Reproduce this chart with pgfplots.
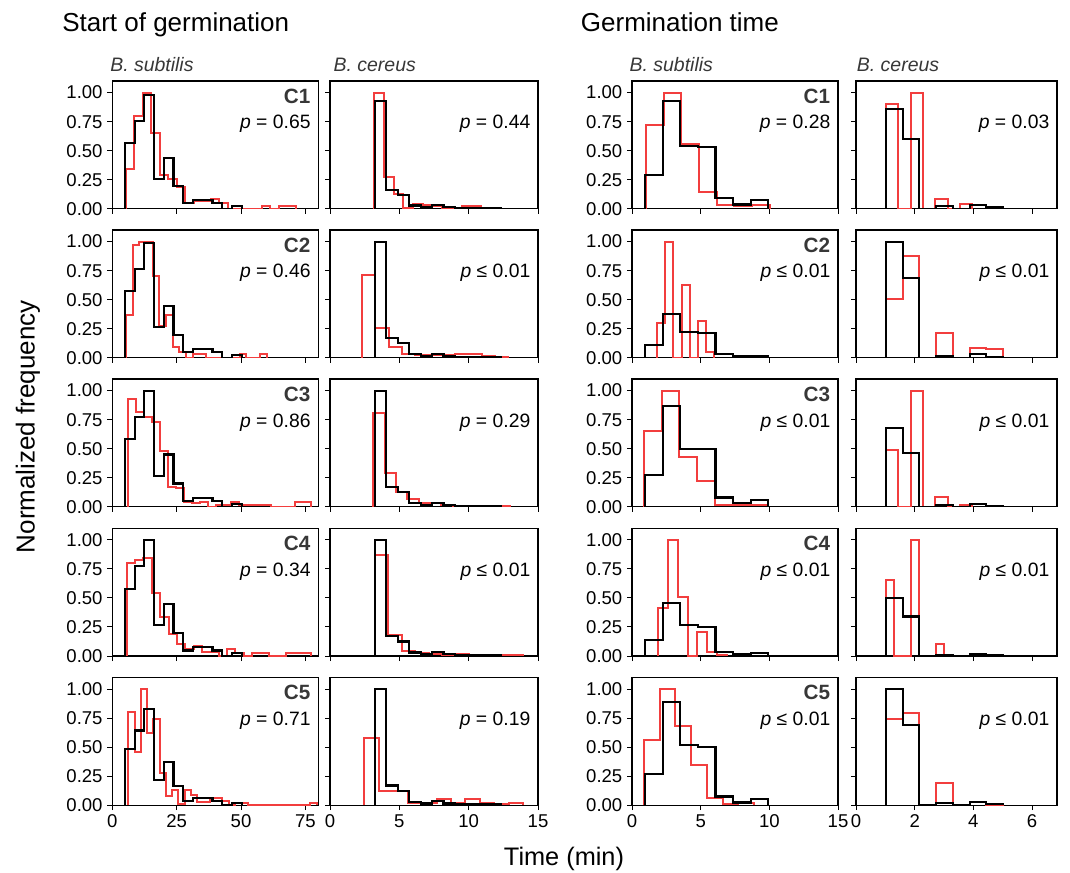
\documentclass[border=0pt]{standalone}
\usepackage{fontspec}
\setmainfont{Liberation Sans}
\usepackage{pgfplots}
\pgfplotsset{compat=1.18}
\definecolor{redl}{RGB}{242,62,62}
\definecolor{labgray}{RGB}{55,55,55}
\newcommand\tickfont{\fontsize{13.9}{15}\selectfont}
\newcommand\pfont{\fontsize{14.5}{16}\selectfont}
\newcommand\cfont{\fontsize{15.5}{17}\selectfont\bfseries}
\pgfplotsset{
  hist/.style={
    scale only axis, height=95.8pt, anchor=north west,
    ymin=0, ymax=1.1,
    ytick={0,0.25,0.5,0.75,1},
    yticklabels={0.00,0.25,0.50,0.75,1.00},
    tick align=outside, tick pos=left,
    major tick length=3.75pt,
    every tick/.style={black, line width=0.75pt},
    axis line style={line width=0.9pt},
    tick label style={font=\tickfont},
    every axis plot/.append style={const plot mark left, no marks, line join=miter},
  },
  colA/.style={width=154.5pt, xmin=0, xmax=80, xtick={0,25,50,75}, xticklabels={0,25,50,75}},
  colB/.style={width=156pt, xmin=0, xmax=15, xtick={0,5,10,15}, xticklabels={0,5,10,15}, yticklabels={}},
  colC/.style={width=154.5pt, xmin=0, xmax=15, xtick={0,5,10,15}, xticklabels={0,5,10,15}},
  colD/.style={width=150.75pt, xmin=0, xmax=6.85, xtick={0,2,4,6}, xticklabels={0,2,4,6}, yticklabels={}},
  nox/.style={xticklabels={}},
  rs/.style={draw=redl, line width=1.5pt},
  bs/.style={draw=black, line width=1.6pt},
}
\newcommand\lab[2]{%
  \node[anchor=base east, font=\cfont, text=labgray, inner sep=0pt, xshift=-5.8pt, yshift=-16.7pt] at (rel axis cs:1,1) {#1};
  \node[anchor=base east, font=\pfont, inner sep=0pt, xshift=-5.6pt, yshift=-36pt] at (rel axis cs:1,1) {#2};}
\newcommand\plab[1]{%
  \node[anchor=base east, font=\pfont, inner sep=0pt, xshift=-5.6pt, yshift=-36pt] at (rel axis cs:1,1) {#1};}
\begin{document}
\begin{tikzpicture}
\useasboundingbox (0,0) rectangle (802.5pt,-654.75pt);
% titles
\node[anchor=base west, inner sep=0pt, font=\fontsize{19.5}{21}\selectfont] at (46.5pt,-24pt) {Start of germination};
\node[anchor=base west, inner sep=0pt, font=\fontsize{19.5}{21}\selectfont] at (435.5pt,-24pt) {Germination time};
\node[anchor=base west, inner sep=0pt, font=\fontsize{14.6}{16}\selectfont\itshape, text=labgray] at (82.5pt,-54pt) {B. subtilis};
\node[anchor=base west, inner sep=0pt, font=\fontsize{14.6}{16}\selectfont\itshape, text=labgray] at (250pt,-54pt) {B. cereus};
\node[anchor=base west, inner sep=0pt, font=\fontsize{14.6}{16}\selectfont\itshape, text=labgray] at (472pt,-54pt) {B. subtilis};
\node[anchor=base west, inner sep=0pt, font=\fontsize{14.6}{16}\selectfont\itshape, text=labgray] at (642.5pt,-54pt) {B. cereus};
\node[rotate=90, font=\fontsize{19.5}{21}\selectfont] at (21pt,-320pt) {Normalized frequency};
\node[font=\fontsize{19}{21}\selectfont] at (423pt,-644.5pt) {Time (min)};

% ---------------- Row 1
\begin{axis}[hist, colA, nox, at={(84.2pt,-60.75pt)}]
\addplot[rs] coordinates {(5.3,0)(5.3,0.34)(8.6,0.80)(11.9,1.0)(15.2,0.65)(18.5,0.29)(21.8,0.26)(25.1,0.19)(28.4,0.05)(31.7,0.07)(35.0,0.07)(38.3,0.08)(41.6,0.05)(44.9,0)(48.2,0)(51.5,0)(54.8,0)(58.1,0.025)(61.4,0)(64.7,0.025)(68.0,0.025)(71.3,0)};
\addplot[bs] coordinates {(4.90,0)(4.90,0.567)(8.68,0.757)(12.46,0.977)(16.24,0.259)(20.02,0.440)(23.80,0.195)(27.58,0.046)(31.36,0.074)(35.14,0.074)(38.92,0.046)(42.70,0)(46.48,0.023)(50.26,0)};
\lab{C1}{\textit{p} = 0.65}
\end{axis}
\begin{axis}[hist, colB, nox, at={(247.5pt,-60.75pt)}]
\addplot[rs] coordinates {(3.2,0)(3.2,1.0)(3.9,0.275)(4.6,0.13)(5.3,0.01)(6.0,0.04)(6.7,0.03)(7.4,0.02)(8.1,0.01)(8.8,0.01)(9.5,0.023)(10.2,0.023)(10.9,0)};
\addplot[bs] coordinates {(3.24,0)(3.24,0.93)(4.064,0.158)(4.888,0.116)(5.712,0.028)(6.536,0.014)(7.36,0.033)(8.184,0.014)(9.008,0.009)(9.832,0.009)(10.656,0.009)(11.48,0.009)(12.304,0)};
\plab{\textit{p} = 0.44}
\end{axis}
\begin{axis}[hist, colC, nox, at={(474pt,-60.75pt)}]
\addplot[rs] coordinates {(1.02,0)(1.02,0.725)(2.305,1.0)(3.59,0.56)(4.875,0.146)(6.16,0.03)(7.445,0.02)(8.73,0.03)(10.015,0)};
\addplot[bs] coordinates {(0.95,0)(0.95,0.287)(2.233,0.925)(3.516,0.537)(4.799,0.532)(6.082,0.09)(7.365,0.037)(8.648,0.074)(9.931,0)};
\lab{C1}{\textit{p} = 0.28}
\end{axis}
\begin{axis}[hist, colD, nox, at={(642pt,-60.75pt)}]
\addplot[rs] coordinates {(1.02,0)(1.02,0.90)(1.44,0)(1.86,1.0)(2.28,0)(2.70,0.08)(3.12,0)(3.54,0.04)(3.96,0)};
\addplot[bs] coordinates {(1.02,0)(1.02,0.86)(1.59,0.60)(2.16,0)(2.73,0.023)(3.30,0)(3.87,0.03)(4.44,0.012)(5.01,0)};
\plab{\textit{p} = 0.03}
\end{axis}

% ---------------- Row 2
\begin{axis}[hist, colA, nox, at={(84.2pt,-172.5pt)}]
\addplot[rs] coordinates {(5.3,0)(5.3,0.37)(7.9,0.975)(10.5,1.0)(13.1,1.0)(15.7,0.70)(18.3,0.27)(20.9,0.37)(23.5,0.09)(26.1,0.05)(28.7,0)(31.3,0.035)(33.9,0.035)(36.5,0)(39.1,0)(41.7,0)(44.3,0)(46.9,0)(49.5,0.035)(52.1,0)(54.7,0)(57.3,0.035)(59.9,0)};
\addplot[bs] coordinates {(4.90,0)(4.90,0.574)(8.68,0.767)(12.46,0.99)(16.24,0.262)(20.02,0.446)(23.80,0.198)(27.58,0.047)(31.36,0.075)(35.14,0.075)(38.92,0.047)(42.70,0)(46.48,0.024)(50.26,0)};
\lab{C2}{\textit{p} = 0.46}
\end{axis}
\begin{axis}[hist, colB, nox, at={(247.5pt,-172.5pt)}]
\addplot[rs] coordinates {(2.3,0)(2.3,0.71)(3.26,0.26)(4.22,0.095)(5.18,0.03)(6.14,0.02)(7.10,0.02)(8.06,0.02)(9.02,0.03)(9.98,0.03)(10.94,0.015)(11.90,0.01)(12.86,0)};
\addplot[bs] coordinates {(3.24,0)(3.24,1.0)(4.064,0.17)(4.888,0.125)(5.712,0.03)(6.536,0.015)(7.36,0.035)(8.184,0.015)(9.008,0.01)(9.832,0.01)(10.656,0.01)(11.48,0.01)(12.304,0)};
\plab{\textit{p} ≤ 0.01}
\end{axis}
\begin{axis}[hist, colC, nox, at={(474pt,-172.5pt)}]
\addplot[rs] coordinates {(1.84,0)(1.84,0.30)(2.43,1.0)(3.02,0)(3.61,0.63)(4.20,0)(4.79,0.32)(5.38,0.046)(5.97,0)};
\addplot[bs] coordinates {(0.95,0)(0.95,0.11)(2.233,0.38)(3.516,0.22)(4.799,0.216)(6.082,0.03)(7.365,0.014)(8.648,0.017)(9.931,0)};
\lab{C2}{\textit{p} ≤ 0.01}
\end{axis}
\begin{axis}[hist, colD, nox, at={(642pt,-172.5pt)}]
\addplot[rs] coordinates {(1.02,0)(1.02,0.51)(1.59,0.88)(2.16,0)(2.73,0.21)(3.30,0)(3.87,0.086)(4.44,0.072)(5.01,0)};
\addplot[bs] coordinates {(1.02,0)(1.02,1.0)(1.59,0.69)(2.16,0)(2.73,0.017)(3.30,0)(3.87,0.03)(4.44,0.01)(5.01,0)};
\plab{\textit{p} ≤ 0.01}
\end{axis}

% ---------------- Row 3
\begin{axis}[hist, colA, nox, at={(84.2pt,-284.25pt)}]
\addplot[rs] coordinates {(6.0,0)(6.0,0.93)(9.1,0.82)(12.2,0.77)(15.3,0.73)(18.4,0.48)(21.5,0.17)(24.6,0.16)(27.7,0.045)(30.8,0.03)(33.9,0.04)(37.0,0)(40.1,0.017)(43.2,0.017)(46.3,0.037)(49.4,0.017)(52.5,0.017)(55.6,0.017)(58.7,0.017)(61.8,0)(64.9,0)(68.0,0)(71.1,0.037)(74.2,0.037)(77.3,0)};
\addplot[bs] coordinates {(4.90,0)(4.90,0.58)(8.68,0.775)(12.46,1.0)(16.24,0.265)(20.02,0.45)(23.80,0.2)(27.58,0.047)(31.36,0.076)(35.14,0.076)(38.92,0.047)(42.70,0)(46.48,0.024)(50.26,0)};
\lab{C3}{\textit{p} = 0.86}
\end{axis}
\begin{axis}[hist, colB, nox, at={(247.5pt,-284.25pt)}]
\addplot[rs] coordinates {(3.12,0)(3.12,0.805)(3.94,0.29)(4.76,0.13)(5.58,0.07)(6.40,0.03)(7.22,0.03)(8.04,0.015)(8.86,0.01)(9.68,0.005)(10.50,0.01)(11.32,0.01)(12.14,0.01)(12.96,0)};
\addplot[bs] coordinates {(3.24,0)(3.24,1.0)(4.064,0.17)(4.888,0.125)(5.712,0.03)(6.536,0.015)(7.36,0.035)(8.184,0.015)(9.008,0.01)(9.832,0.01)(10.656,0.01)(11.48,0.01)(12.304,0)};
\plab{\textit{p} = 0.29}
\end{axis}
\begin{axis}[hist, colC, nox, at={(474pt,-284.25pt)}]
\addplot[rs] coordinates {(0.87,0)(0.87,0.65)(2.16,1.0)(3.45,0.43)(4.74,0.22)(6.03,0.012)(7.32,0.012)(8.61,0.012)(9.90,0)};
\addplot[bs] coordinates {(0.95,0)(0.95,0.27)(2.233,0.87)(3.516,0.50)(4.799,0.50)(6.082,0.08)(7.365,0.03)(8.648,0.06)(9.931,0)};
\lab{C3}{\textit{p} ≤ 0.01}
\end{axis}
\begin{axis}[hist, colD, nox, at={(642pt,-284.25pt)}]
\addplot[rs] coordinates {(1.02,0)(1.02,0.49)(1.44,0)(1.86,1.0)(2.28,0)(2.70,0.083)(3.12,0)(3.54,0.012)(3.96,0)};
\addplot[bs] coordinates {(1.02,0)(1.02,0.68)(1.59,0.46)(2.16,0)(2.73,0.014)(3.30,0)(3.87,0.023)(4.44,0.009)(5.01,0)};
\plab{\textit{p} ≤ 0.01}
\end{axis}

% ---------------- Row 4
\begin{axis}[hist, colA, nox, at={(84.2pt,-396.2pt)}]
\addplot[rs] coordinates {(5.6,0)(5.6,0.80)(8.85,0.83)(12.1,0.84)(15.35,0.54)(18.6,0.34)(21.85,0.19)(25.1,0.10)(28.35,0.06)(31.6,0.09)(34.85,0.037)(38.1,0.037)(41.35,0)(44.6,0.057)(47.85,0.023)(51.1,0)(54.35,0.023)(57.6,0.023)(60.85,0)(64.1,0)(67.35,0.023)(70.6,0.023)(73.85,0.023)(77.1,0)};
\addplot[bs] coordinates {(4.90,0)(4.90,0.58)(8.68,0.775)(12.46,1.0)(16.24,0.265)(20.02,0.45)(23.80,0.2)(27.58,0.047)(31.36,0.076)(35.14,0.076)(38.92,0.047)(42.70,0)(46.48,0.024)(50.26,0)};
\lab{C4}{\textit{p} = 0.34}
\end{axis}
\begin{axis}[hist, colB, nox, at={(247.5pt,-396.2pt)}]
\addplot[rs] coordinates {(3.24,0)(3.24,0.87)(4.21,0.18)(5.18,0.045)(6.15,0.023)(7.12,0.015)(8.09,0.01)(9.06,0.017)(10.03,0.005)(11.00,0.005)(11.97,0.005)(12.94,0.012)(13.91,0)};
\addplot[bs] coordinates {(3.24,0)(3.24,1.0)(4.064,0.17)(4.888,0.125)(5.712,0.03)(6.536,0.015)(7.36,0.035)(8.184,0.015)(9.008,0.01)(9.832,0.01)(10.656,0.01)(11.48,0.01)(12.304,0)};
\plab{\textit{p} ≤ 0.01}
\end{axis}
\begin{axis}[hist, colC, nox, at={(474pt,-396.2pt)}]
\addplot[rs] coordinates {(1.92,0)(1.92,0.41)(2.63,1.0)(3.34,0.51)(4.05,0)(4.76,0.21)(5.47,0.037)(6.18,0.01)(6.89,0)};
\addplot[bs] coordinates {(0.95,0)(0.95,0.138)(2.233,0.454)(3.516,0.264)(4.799,0.253)(6.082,0.037)(7.365,0.014)(8.648,0.029)(9.931,0)};
\lab{C4}{\textit{p} ≤ 0.01}
\end{axis}
\begin{axis}[hist, colD, nox, at={(642pt,-396.2pt)}]
\addplot[rs] coordinates {(1.02,0)(1.02,0.655)(1.305,0)(1.59,0)(1.875,1.0)(2.16,0)(2.445,0)(2.73,0.10)(3.015,0)};
\addplot[bs] coordinates {(1.02,0)(1.02,0.50)(1.59,0.34)(2.16,0)(2.73,0.011)(3.30,0)(3.87,0.02)(4.44,0.007)(5.01,0)};
\plab{\textit{p} ≤ 0.01}
\end{axis}

% ---------------- Row 5
\begin{axis}[hist, colA, at={(84.2pt,-508.1pt)}]
\addplot[rs] coordinates {(6.2,0)(6.2,0.80)(8.64,0.46)(11.08,1.0)(13.52,0.62)(15.96,0.74)(18.4,0.28)(20.84,0.075)(23.28,0.13)(25.72,0.01)(28.16,0.13)(30.6,0.09)(33.04,0.03)(35.48,0.03)(37.92,0.066)(40.36,0.066)(42.8,0.037)(45.24,0)(47.68,0.023)(50.12,0.023)(52.56,0)(55.0,0)(57.44,0)(59.88,0)(62.32,0)(64.76,0)(67.2,0)(69.64,0)(72.08,0)(74.52,0)(76.96,0.023)(79.4,0)};
\addplot[bs] coordinates {(4.90,0)(4.90,0.481)(8.68,0.643)(12.46,0.83)(16.24,0.220)(20.02,0.374)(23.80,0.166)(27.58,0.039)(31.36,0.063)(35.14,0.063)(38.92,0.039)(42.70,0)(46.48,0.020)(50.26,0)};
\lab{C5}{\textit{p} = 0.71}
\end{axis}
\begin{axis}[hist, colB, at={(247.5pt,-508.1pt)}]
\addplot[rs] coordinates {(2.48,0)(2.48,0.575)(3.52,0.125)(4.56,0.125)(5.60,0.023)(6.64,0.023)(7.68,0.057)(8.72,0.023)(9.76,0.057)(10.80,0.023)(11.84,0.01)(12.88,0.017)(13.92,0)};
\addplot[bs] coordinates {(3.24,0)(3.24,1.0)(4.064,0.17)(4.888,0.125)(5.712,0.03)(6.536,0.015)(7.36,0.035)(8.184,0.015)(9.008,0.01)(9.832,0.01)(10.656,0.01)(11.48,0.01)(12.304,0)};
\plab{\textit{p} = 0.19}
\end{axis}
\begin{axis}[hist, colC, at={(474pt,-508.1pt)}]
\addplot[rs] coordinates {(0.87,0)(0.87,0.56)(2.015,1.0)(3.16,0.68)(4.305,0.35)(5.45,0.06)(6.595,0.01)(7.74,0.015)(8.885,0)};
\addplot[bs] coordinates {(0.95,0)(0.95,0.267)(2.233,0.89)(3.516,0.517)(4.799,0.50)(6.082,0.075)(7.365,0.023)(8.648,0.052)(9.931,0)};
\lab{C5}{\textit{p} ≤ 0.01}
\end{axis}
\begin{axis}[hist, colD, at={(642pt,-508.1pt)}]
\addplot[rs] coordinates {(1.02,0)(1.02,0.74)(1.59,0.79)(2.16,0)(2.73,0.19)(3.30,0)(3.87,0.03)(4.44,0.005)(5.01,0)};
\addplot[bs] coordinates {(1.02,0)(1.02,1.0)(1.59,0.69)(2.16,0)(2.73,0.017)(3.30,0)(3.87,0.03)(4.44,0.01)(5.01,0)};
\plab{\textit{p} ≤ 0.01}
\end{axis}
\end{tikzpicture}
\end{document}
